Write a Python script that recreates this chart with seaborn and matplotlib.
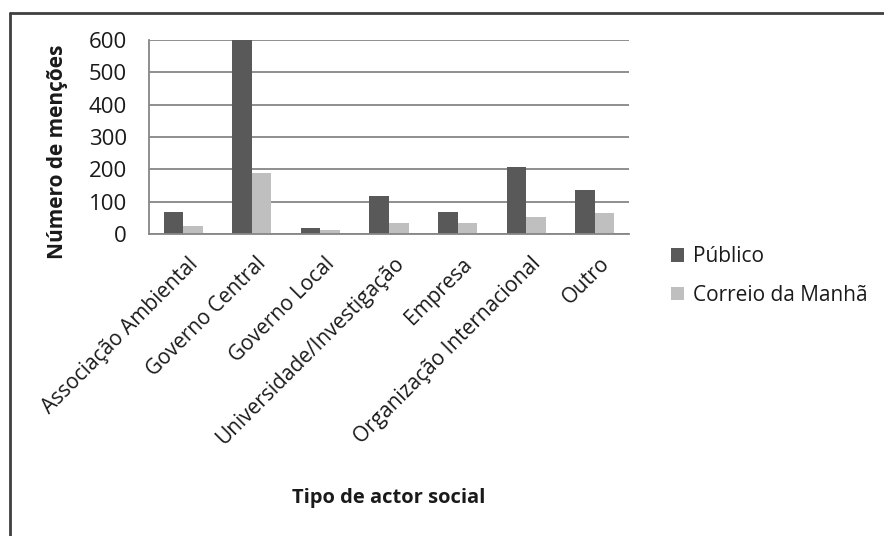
import matplotlib
matplotlib.use("Agg")
import matplotlib.pyplot as plt
from matplotlib.lines import Line2D
from matplotlib.patches import Patch
from matplotlib.transforms import ScaledTranslation
import seaborn as sns
import pandas as pd

# Mentions per type of social actor, by newspaper
categorias = ["Associação Ambiental", "Governo Central", "Governo Local",
              "Universidade/Investigação", "Empresa", "Organização Internacional", "Outro"]
publico = [68, 600, 18, 119, 69, 206, 137]
correio_da_manha = [25, 188, 11, 33, 33, 54, 66]
series = ["Público", "Correio da Manhã"]
y_ticks = [0, 100, 200, 300, 400, 500, 600]

df = pd.DataFrame({
    "categoria": categorias * 2,
    "jornal": [series[0]] * len(categorias) + [series[1]] * len(categorias),
    "mencoes": publico + correio_da_manha,
})

sns.set_theme(style="white")
plt.rcParams["font.family"] = ["Open Sans", "DejaVu Sans"]

cores = {"Público": "#595959", "Correio da Manhã": "#bfbfbf"}
grid_col = "#868686"
texto = "#1a1a1a"

W, H = 884, 536
fig = plt.figure(figsize=(W / 100, H / 100), dpi=100)
ax = fig.add_axes([149 / W, 1 - 234 / H, 480 / W, 194 / H])

sns.barplot(data=df, x="categoria", y="mencoes", hue="jornal", order=categorias,
            hue_order=series, palette=cores, width=0.57, saturation=1,
            edgecolor="none", ax=ax, legend=False)

ax.set_ylim(0, 600)
ax.set_xlim(-0.5, len(categorias) - 0.5)
ax.set_yticks(y_ticks)
ax.set_yticklabels([str(v) for v in y_ticks], fontsize=16)
ax.yaxis.grid(True, color=grid_col, linewidth=1.3)
ax.set_axisbelow(True)

# category boundaries carry the tick marks; labels sit under the centres
ax.set_xticks(range(len(categorias)))
ax.set_xticklabels(categorias, rotation=45, ha="right", rotation_mode="anchor",
                   fontsize=15, color=texto)
ax.tick_params(axis="x", which="major", length=0, pad=14)
shift = ScaledTranslation(4 / 100, 0, fig.dpi_scale_trans)
for lbl in ax.get_xticklabels():
    lbl.set_transform(lbl.get_transform() + shift)
ax.set_xticks([i - 0.5 for i in range(len(categorias) + 1)], minor=True)
ax.tick_params(axis="x", which="minor", length=6, width=1.2, color=grid_col, direction="out")
ax.tick_params(axis="y", length=6, width=1.2, color=grid_col, direction="out", pad=10,
               labelcolor=texto)

for side in ("top", "right"):
    ax.spines[side].set_visible(False)
for side in ("left", "bottom"):
    ax.spines[side].set_color(grid_col)
    ax.spines[side].set_linewidth(1.3)

ax.set_xlabel("")
ax.set_ylabel("")
fig.text(58 / W, 1 - 152 / H, "Número de menções", rotation=90, ha="center", va="center",
         fontsize=15, fontweight="bold", color=texto)
fig.text(389 / W, 1 - 498 / H, "Tipo de actor social", ha="center", va="center",
         fontsize=14.5, fontweight="bold", color=texto)

handles = [Patch(facecolor=cores[s], edgecolor="none") for s in series]
fig.legend(handles, series, loc="center left", bbox_to_anchor=(652 / W, 1 - 276 / H),
           frameon=False, fontsize=15, handlelength=0.65, handleheight=0.65,
           handletextpad=0.4, labelspacing=0.85, labelcolor=texto)

# outer frame, top and left edges
fig.add_artist(Line2D([10 / W, 1], [1 - 13 / H, 1 - 13 / H], color="#404040",
                      linewidth=2, transform=fig.transFigure))
fig.add_artist(Line2D([10 / W, 10 / W], [0, 1 - 13 / H], color="#404040",
                      linewidth=2, transform=fig.transFigure))

fig.savefig("out.png", dpi=100, facecolor="white")
